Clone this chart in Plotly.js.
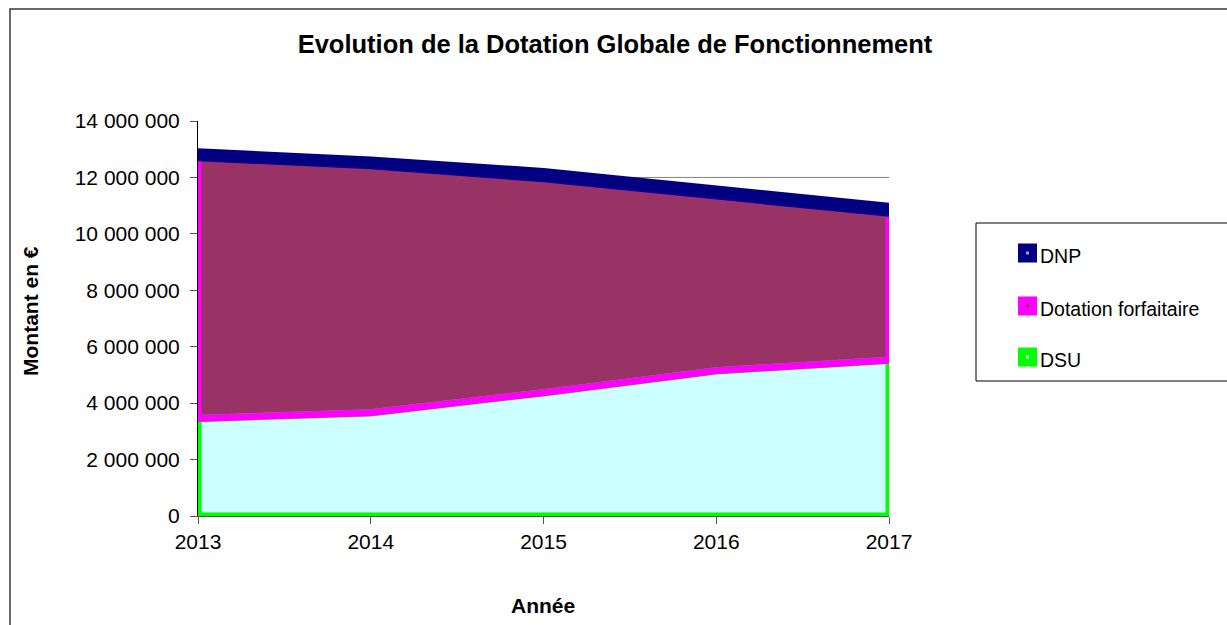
<!DOCTYPE html>
<html>
<head>
<meta charset="utf-8">
<script src="https://cdn.plot.ly/plotly-3.0.1.min.js"></script>
<style>
  html, body { margin: 0; padding: 0; background: #fff; }
  #chart { width: 1227px; height: 625px; }
</style>
</head>
<body>
<div id="chart"></div>
<script>
// ---- Data ----
const years = [2013, 2014, 2015, 2016, 2017];
const dsu = [3460000, 3660000, 4370000, 5150000, 5520000];
const dotationForfaitaire = [9240000, 8750000, 7580000, 6180000, 5210000];
const dnp = [210000, 210000, 260000, 250000, 250000];

const yTickVals = [0, 2000000, 4000000, 6000000, 8000000, 10000000, 12000000, 14000000];
const yTickLabels = ['0', '2 000 000', '4 000 000', '6 000 000', '8 000 000', '10 000 000', '12 000 000', '14 000 000'];
const xTickLabels = ['2013', '2014', '2015', '2016', '2017'];

const seriesNames = ['DNP', 'Dotation forfaitaire', 'DSU'];
const chartTitle = 'Evolution de la Dotation Globale de Fonctionnement';
const xTitle = 'Année';
const yTitle = 'Montant en €';
const gridValue = 12000000;

// ---- Styles ----
const FONT = 'Liberation Sans, Arial, sans-serif';
const C = {
  dsuFill: '#CCFFFF', dsuLine: '#00FF00',
  dotFill: '#993366', dotLine: '#FF00FF',
  dnpFill: '#000080', dnpLine: '#000080', dnpDot: '#9999FF'
};
const LW = 7;

// Plot area geometry (pixels)
const L = 198, T = 121, PW = 691, PH = 395;
const fx = x => (x - L) / PW;
const fy = y => (T + PH - y) / PH;

// Cumulative levels
const cum1 = dsu.slice();
const cum2 = dsu.map((v, i) => v + dotationForfaitaire[i]);
const cum3 = cum2.map((v, i) => v + dnp[i]);
const zeros = years.map(() => 0);

function outline(lower, upper, color) {
  const xs = years.concat(years.slice().reverse(), [years[0]]);
  const ys = lower.concat(upper.slice().reverse(), [lower[0]]);
  return { x: xs, y: ys, type: 'scatter', mode: 'lines', showlegend: false, hoverinfo: 'skip',
           line: { color: color, width: LW } };
}

const traces = [
  { x: years, y: dsu, name: seriesNames[2], type: 'scatter', mode: 'lines', stackgroup: 'g',
    fillcolor: C.dsuFill, line: { width: 0, color: C.dsuFill }, showlegend: false },
  { x: years, y: dotationForfaitaire, name: seriesNames[1], type: 'scatter', mode: 'lines', stackgroup: 'g',
    fillcolor: C.dotFill, line: { width: 0, color: C.dotFill }, showlegend: false },
  { x: years, y: dnp, name: seriesNames[0], type: 'scatter', mode: 'lines', stackgroup: 'g',
    fillcolor: C.dnpFill, line: { width: 0, color: C.dnpFill }, showlegend: false },
  outline(zeros, cum1, C.dsuLine),
  outline(cum1, cum2, C.dotLine),
  outline(cum2, cum3, C.dnpLine)
];

// Manual Excel-like legend
const legendItems = [
  { name: seriesNames[0], outer: C.dnpLine, inner: C.dnpDot, cy: 253 },
  { name: seriesNames[1], outer: C.dotLine, inner: C.dotFill, cy: 306 },
  { name: seriesNames[2], outer: C.dsuLine, inner: C.dsuFill, cy: 357 }
];

const shapes = [
  // gridline
  { type: 'line', xref: 'x', yref: 'y', x0: years[0], x1: years[years.length - 1], y0: gridValue, y1: gridValue,
    line: { color: '#808080', width: 1 }, layer: 'below' },
  // outer chart border
  { type: 'rect', xref: 'paper', yref: 'paper', x0: fx(10), x1: fx(1240), y0: fy(640), y1: fy(9),
    line: { color: '#3a3a3a', width: 1.5 }, fillcolor: 'rgba(0,0,0,0)' },
  // legend box
  { type: 'rect', xref: 'paper', yref: 'paper', x0: fx(976), x1: fx(1240), y0: fy(381), y1: fy(223),
    line: { color: '#000000', width: 1 }, fillcolor: 'rgba(0,0,0,0)' }
];
const annotations = [
  { text: '<b>' + yTitle + '</b>', xref: 'paper', yref: 'paper', x: fx(30), y: fy(311), textangle: -90,
    showarrow: false, font: { family: FONT, size: 21, color: '#000' }, xanchor: 'center', yanchor: 'middle' },
  { text: '<b>' + xTitle + '</b>', xref: 'paper', yref: 'paper', x: fx(543), y: fy(605),
    showarrow: false, font: { family: FONT, size: 21, color: '#000' }, xanchor: 'center', yanchor: 'middle' }
];
legendItems.forEach(it => {
  shapes.push({ type: 'rect', xref: 'paper', yref: 'paper', x0: fx(1018), x1: fx(1037), y0: fy(it.cy + 9.5), y1: fy(it.cy - 9.5),
    line: { width: 0 }, fillcolor: it.outer });
  shapes.push({ type: 'rect', xref: 'paper', yref: 'paper', x0: fx(1026), x1: fx(1029), y0: fy(it.cy + 1.5), y1: fy(it.cy - 1.5),
    line: { width: 0 }, fillcolor: it.inner });
  annotations.push({ text: it.name, xref: 'paper', yref: 'paper', x: fx(1038), y: fy(it.cy + 2.5),
    xanchor: 'left', yanchor: 'middle', showarrow: false, font: { family: FONT, size: 19.5, color: '#000' } });
});

const layout = {
  width: 1227, height: 625,
  margin: { l: L, r: 1227 - L - PW, t: T, b: 625 - T - PH, pad: 0 },
  paper_bgcolor: '#fff', plot_bgcolor: '#fff',
  font: { family: FONT, size: 21, color: '#000' },
  title: { text: '<b>' + chartTitle + '</b>', x: 615 / 1227, xref: 'container', xanchor: 'center',
           y: 1 - 44 / 625, yref: 'container', yanchor: 'middle', font: { family: FONT, size: 25.5, color: '#000' } },
  xaxis: { range: [years[0], years[years.length - 1]], tickvals: years, ticktext: xTickLabels,
           showgrid: false, zeroline: false, showline: true, linecolor: '#555', linewidth: 1,
           ticks: 'outside', ticklen: 7, tickcolor: '#555', tickfont: { family: FONT, size: 21, color: '#000' } },
  yaxis: { range: [0, 14000000], tickvals: yTickVals, ticktext: yTickLabels,
           showgrid: false, zeroline: false, showline: true, linecolor: '#000', linewidth: 1,
           ticks: 'outside', ticklen: 7, tickcolor: '#555', ticklabelstandoff: 6,
           tickfont: { family: FONT, size: 21, color: '#000' } },
  showlegend: false,
  shapes: shapes,
  annotations: annotations
};

Plotly.newPlot('chart', traces, layout, { displayModeBar: false, staticPlot: true });
</script>
</body>
</html>
